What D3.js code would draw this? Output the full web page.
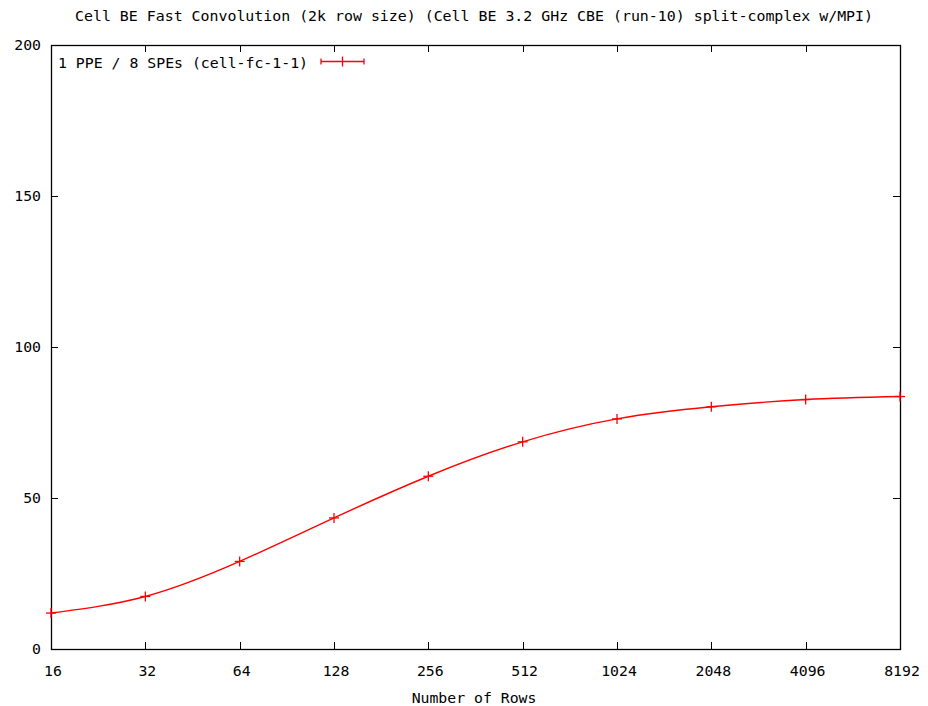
<!DOCTYPE html>
<html>
<head>
<meta charset="utf-8">
<script src="https://cdn.jsdelivr.net/npm/d3@7"></script>
<style>
  html, body { margin: 0; padding: 0; background: #fff; }
  svg { display: block; }
  text { font-family: "DejaVu Sans Mono", "Liberation Mono", monospace; font-size: 14.8px; fill: #000; }
</style>
</head>
<body>
<svg id="chart" width="928" height="706"></svg>
<script>
// Row counts (log2-spaced categories) and measured throughput
const rowCounts = [16, 32, 64, 128, 256, 512, 1024, 2048, 4096, 8192];
const throughput = [11.9, 17.4, 29.0, 43.4, 57.2, 68.6, 76.2, 80.2, 82.6, 83.6];
const yTicks = [0, 50, 100, 150, 200];
const titleText = "Cell BE Fast Convolution (2k row size) (Cell BE 3.2 GHz CBE (run-10) split-complex w/MPI)";
const xLabel = "Number of Rows";
const seriesName = "1 PPE / 8 SPEs (cell-fc-1-1)";

const svg = d3.select("#chart");
const margin = { left: 51, right: 28, top: 45, bottom: 57 };
const W = 928, H = 706;
const x = d3.scaleLog().base(2).domain([16, 8192]).range([margin.left, W - margin.right]);
const y = d3.scaleLinear().domain([0, 200]).range([H - margin.bottom, margin.top]);
const x0 = x.range()[0], x1 = x.range()[1], y0 = y.range()[0], y1 = y.range()[1];
const tickLen = 7;

// Title
svg.append("text")
  .attr("x", 75).attr("y", 21)
  .attr("textLength", 798).attr("lengthAdjust", "spacingAndGlyphs")
  .text(titleText);

// Ticks: inward on all four sides (mirrored)
const tickG = svg.append("g").attr("stroke", "#000").attr("stroke-width", 1);
rowCounts.forEach(v => {
  const px = Math.round(x(v)) + 0.5;
  tickG.append("line").attr("x1", px).attr("x2", px).attr("y1", y0).attr("y2", y0 - tickLen);
  tickG.append("line").attr("x1", px).attr("x2", px).attr("y1", y1).attr("y2", y1 + tickLen);
});
yTicks.forEach(v => {
  const py = Math.round(y(v)) + 0.5;
  tickG.append("line").attr("x1", x0).attr("x2", x0 + tickLen).attr("y1", py).attr("y2", py);
  tickG.append("line").attr("x1", x1).attr("x2", x1 - tickLen).attr("y1", py).attr("y2", py);
});

// Tick labels
svg.append("g").selectAll("text").data(rowCounts).join("text")
  .attr("x", d => x(d) + 2).attr("y", y0 + 27)
  .attr("text-anchor", "middle")
  .text(d => d);
svg.append("g").selectAll("text").data(yTicks).join("text")
  .attr("x", 41).attr("y", d => y(d) + 5)
  .attr("text-anchor", "end")
  .text(d => d);

// Axis title
svg.append("text")
  .attr("x", 474).attr("y", 703)
  .attr("text-anchor", "middle")
  .text(xLabel);

// Plot border
svg.append("rect")
  .attr("x", x0 + 0.5).attr("y", y1 + 0.5)
  .attr("width", x1 - x0).attr("height", y0 - y1)
  .attr("fill", "none").attr("stroke", "#000").attr("stroke-width", 1.3);

// Series curve
const red = "#ff0000";
const line = d3.line().x((d, i) => x(rowCounts[i])).y(d => y(d)).curve(d3.curveNatural);
svg.append("path")
  .attr("d", line(throughput))
  .attr("fill", "none").attr("stroke", red).attr("stroke-width", 1.4);

// "+" point markers
const cross = 5;
const pts = svg.append("g").attr("stroke", red).attr("stroke-width", 1.3);
throughput.forEach((v, i) => {
  const px = x(rowCounts[i]), py = y(v);
  pts.append("line").attr("x1", px - cross).attr("x2", px + cross).attr("y1", py).attr("y2", py);
  pts.append("line").attr("x1", px).attr("x2", px).attr("y1", py - cross).attr("y2", py + cross);
});

// Legend
svg.append("text")
  .attr("x", 58).attr("y", 68)
  .attr("textLength", 250).attr("lengthAdjust", "spacingAndGlyphs")
  .text(seriesName);
const lg = svg.append("g").attr("stroke", red).attr("stroke-width", 1.3);
const ly = 61.5, lx0 = 321, lx1 = 364, lxm = 342.5;
lg.append("line").attr("x1", lx0).attr("x2", lx1).attr("y1", ly).attr("y2", ly);
lg.append("line").attr("x1", lx0).attr("x2", lx0).attr("y1", ly - 3).attr("y2", ly + 3);
lg.append("line").attr("x1", lx1).attr("x2", lx1).attr("y1", ly - 3).attr("y2", ly + 3);
lg.append("line").attr("x1", lxm).attr("x2", lxm).attr("y1", ly - 5).attr("y2", ly + 5);
</script>
</body>
</html>
